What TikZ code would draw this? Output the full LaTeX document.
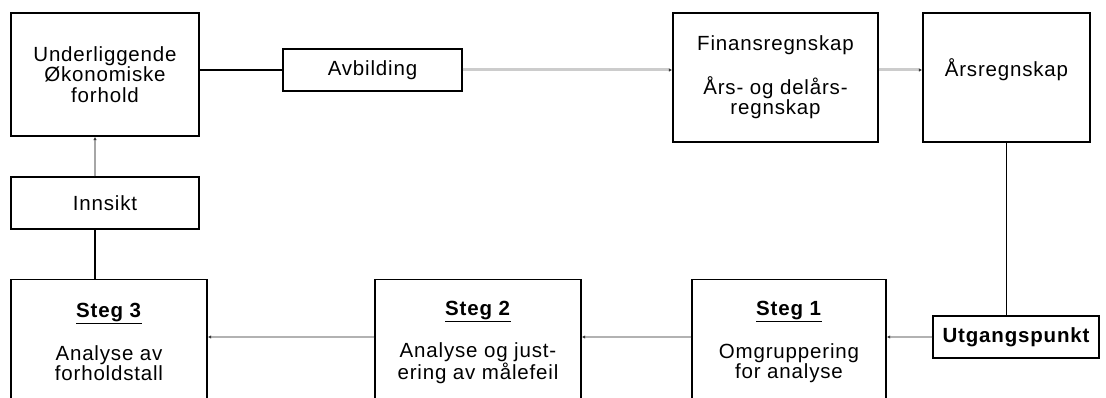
\documentclass[tikz,border=0pt]{standalone}
\usepackage{fontspec}
\setmainfont[LetterSpace=4]{Liberation Sans}
\usetikzlibrary{arrows,arrows.meta}

\begin{document}
\begin{tikzpicture}[x=1pt, y=-1pt,
      box/.style={rectangle, draw=black, line width=1.4pt, inner sep=0pt, align=center, font=\fontsize{20.5}{20.5}\selectfont},
      linje/.style={draw=black, line width=1.6pt},
      pfeil/.style={draw=gray!40, line width=3pt, -{Latex[black!80,length=3.5pt,width=3.5pt]}}]

\useasboundingbox (0,0) rectangle (1106,398);
\clip (0,0) rectangle (1106,398);

\node[box, minimum width=188pt, minimum height=123pt] (under) at (105,74.5) {Underliggende\\Økonomiske\\forhold};
\node[box, minimum width=179pt, minimum height=42pt] (avb) at (372.5,70) {Avbilding};
\node[box, minimum width=205pt, minimum height=129pt] (finans) at (775.5,77.5) {Finansregnskap\\[20pt]Års- og delårs-\\regnskap};
\node[box, minimum width=167pt, minimum height=129pt] (aars) at (1006.5,77.5) {};
\node[font=\fontsize{20.5}{20.5}\selectfont] (aarstxt) at (1006.5,70) {Årsregnskap};
\node[box, minimum width=166pt, minimum height=42pt, font=\fontsize{20.5}{20.5}\selectfont\bfseries] (utg) at (1016,337) {Utgangspunkt};
\node[box, minimum width=194pt, minimum height=125pt, anchor=north] (steg1) at (789,279) {\underline{\textbf{Steg 1}}\\[20pt]Omgruppering\\for analyse};
\node[box, minimum width=206pt, minimum height=125pt, anchor=north] (steg2) at (478,279) {\underline{\textbf{Steg 2}}\\[20pt]Analyse og just-\\ering av målefeil};
\node[box, minimum width=196pt, minimum height=125pt, anchor=north] (steg3) at (109,279) {\underline{\textbf{Steg 3}}\\[20pt]Analyse av\\forholdstall};
\node[box, minimum width=188pt, minimum height=52pt] (innsikt) at (105,203) {Innsikt};

\draw[linje] (under.east |- avb.west) -- (avb.west);
\draw[pfeil] (avb.east) -- (avb.east -| finans.west);
\draw[pfeil] (finans.east |- aarstxt) -- (aars.west |- aarstxt);
\draw[linje] (aars.south) -- (aars.south |- utg.north);
\draw[pfeil, draw=gray!60, line width=2.5pt] (utg.west) -- (utg.west -| steg1.east);
\draw[pfeil, draw=gray!60, line width=2.5pt] (steg1.west |- utg.west) -- (steg2.east |- utg.west);
\draw[pfeil, draw=gray!60, line width=2.5pt] (steg2.west |- utg.west) -- (steg3.east |- utg.west);
\draw[linje] ([xshift=-10pt]innsikt.south) -- ([xshift=-10pt]innsikt.south |- steg3.north);
\draw[pfeil, draw=gray!70, line width=1.6pt] ([xshift=-10pt]innsikt.north) -- ([xshift=-10pt]innsikt.north |- under.south);

\end{tikzpicture}
\end{document}
